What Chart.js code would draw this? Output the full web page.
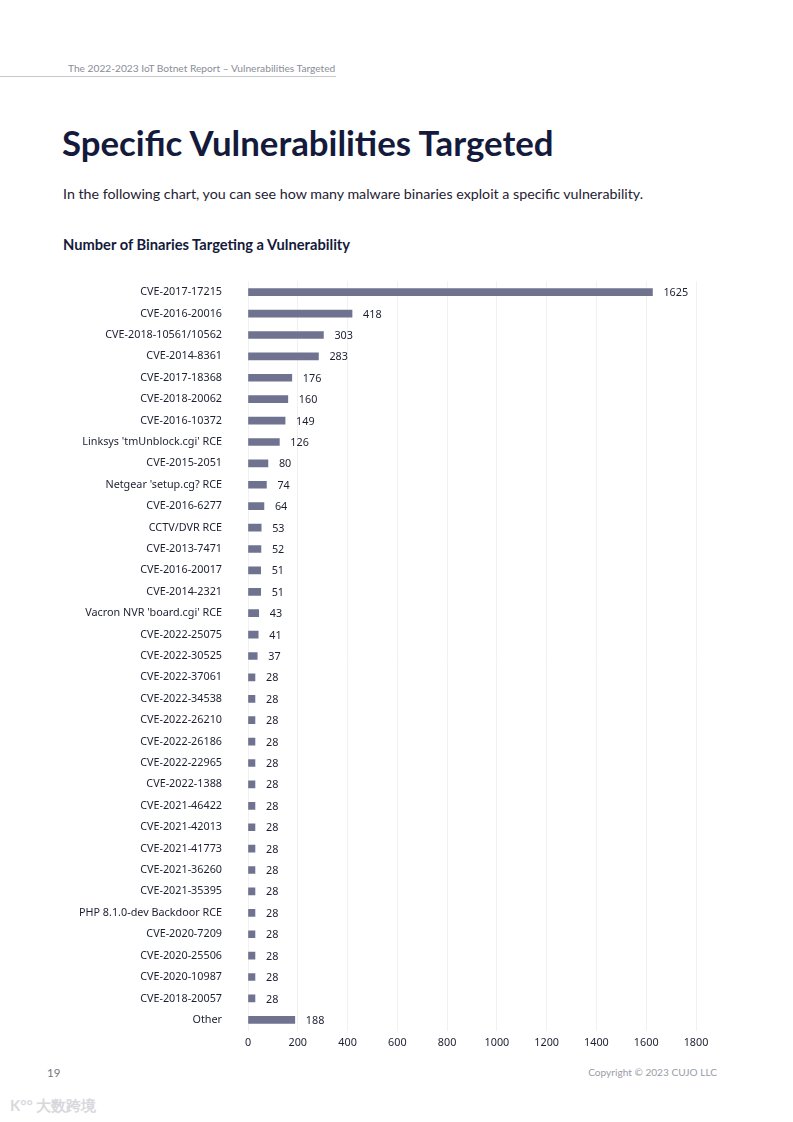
<!DOCTYPE html>
<html>
<head>
<meta charset="utf-8">
<script src="https://cdn.jsdelivr.net/npm/chart.js@4"></script>
<style>
  html, body { margin: 0; padding: 0; background: #fff; }
  body { width: 793px; height: 1122px; position: relative; overflow: hidden; font-family: Lato, sans-serif; }
  .header { position: absolute; left: 68px; top: 62px; font-size: 10.2px; color: #8a8d99; }
  .header-rule { position: absolute; left: 0; top: 76px; width: 336px; height: 1px; background: #c8c9cf; }
  h1 { position: absolute; left: 62px; top: 122px; margin: 0; font-size: 34.8px; font-weight: 700; color: #141a3b; }
  .lead { position: absolute; left: 63px; top: 185px; font-size: 14.25px; color: #1f2233; }
  .chart-title { position: absolute; left: 63px; top: 235px; font-size: 14.7px; font-weight: 700; color: #141a3b; }
  .chart-box { position: absolute; left: 0; top: 249px; width: 760px; height: 814px; }
  .page-no { position: absolute; left: 47px; top: 1066px; font-size: 11.5px; color: #77787e; }
  .copyright { position: absolute; right: 76px; top: 1066px; font-size: 10.1px; color: #9a9ca6; }
  .mark { position: absolute; left: 10px; top: 1096px; font-size: 15px; color: #d8d8dc; font-weight: 700; }
</style>
</head>
<body>
<div class="header">The 2022-2023 IoT Botnet Report – Vulnerabilities Targeted</div>
<div class="header-rule"></div>
<h1>Specific Vulnerabilities Targeted</h1>
<div class="lead">In the following chart, you can see how many malware binaries exploit a specific vulnerability.</div>
<div class="chart-title">Number of Binaries Targeting a Vulnerability</div>
<div class="chart-box"><canvas id="barChart"></canvas></div>
<div class="page-no">19</div>
<div class="copyright">Copyright © 2023 CUJO LLC</div>
<div class="mark">K°° 大数跨境</div>
<script>
// categories and counts
const vulnerabilities = [
    'CVE-2017-17215', 'CVE-2016-20016', 'CVE-2018-10561/10562', 'CVE-2014-8361',
    'CVE-2017-18368', 'CVE-2018-20062', 'CVE-2016-10372', "Linksys 'tmUnblock.cgi' RCE",
    'CVE-2015-2051', "Netgear 'setup.cg? RCE", 'CVE-2016-6277', 'CCTV/DVR RCE',
    'CVE-2013-7471', 'CVE-2016-20017', 'CVE-2014-2321', "Vacron NVR 'board.cgi' RCE",
    'CVE-2022-25075', 'CVE-2022-30525', 'CVE-2022-37061', 'CVE-2022-34538',
    'CVE-2022-26210', 'CVE-2022-26186', 'CVE-2022-22965', 'CVE-2022-1388',
    'CVE-2021-46422', 'CVE-2021-42013', 'CVE-2021-41773', 'CVE-2021-36260',
    'CVE-2021-35395', 'PHP 8.1.0-dev Backdoor RCE', 'CVE-2020-7209', 'CVE-2020-25506',
    'CVE-2020-10987', 'CVE-2018-20057', 'Other'
];
const binaryCounts = [
    1625, 418, 303, 283, 176, 160, 149, 126, 80, 74, 64, 53, 52, 51, 51, 43,
    41, 37, 28, 28, 28, 28, 28, 28, 28, 28, 28, 28, 28, 28, 28, 28, 28, 28, 188
];
const xTicks = [0, 200, 400, 600, 800, 1000, 1200, 1400, 1600, 1800];

const labelFont = '"Noto Sans", sans-serif';

// value labels at the end of each bar
const valueLabels = {
    id: 'valueLabels',
    afterDatasetsDraw(chart) {
        const ctx = chart.ctx;
        const meta = chart.getDatasetMeta(0);
        ctx.save();
        ctx.font = '10.8px ' + labelFont;
        ctx.fillStyle = '#1c1f30';
        ctx.textAlign = 'left';
        ctx.textBaseline = 'middle';
        meta.data.forEach((bar, i) => {
            ctx.fillText(String(binaryCounts[i]), bar.x + 11, bar.y + 1);
        });
        ctx.restore();
    }
};

const barChartCtx = document.getElementById('barChart').getContext('2d');
new Chart(barChartCtx, {
    type: 'bar',
    data: {
        labels: vulnerabilities,
        datasets: [{
            data: binaryCounts,
            backgroundColor: '#6f7390',
            barThickness: 7
        }]
    },
    options: {
        indexAxis: 'y',
        responsive: true,
        maintainAspectRatio: false,
        animation: false,
        layout: { padding: { top: 12, right: 64, left: 0, bottom: 0 } },
        plugins: {
            legend: { display: false },
            tooltip: { enabled: false }
        },
        scales: {
            x: {
                min: 0,
                max: 1800,
                afterBuildTicks: (scale) => { scale.ticks = xTicks.map(v => ({ value: v })); },
                afterFit: (scale) => { scale.height = 22; },
                border: { display: false },
                grid: { color: '#f1f1f4', drawTicks: false },
                ticks: {
                    padding: 6,
                    color: '#1c1f30',
                    font: { family: labelFont, size: 10.8 },
                    callback: (v) => String(v)
                }
            },
            y: {
                afterFit: (scale) => { scale.width = 248; },
                border: { display: false },
                grid: { display: false, drawTicks: false },
                ticks: {
                    padding: 26,
                    autoSkip: false,
                    color: '#1c1f30',
                    font: { family: labelFont, size: 10.8 }
                }
            }
        }
    },
    plugins: [valueLabels]
});
</script>
</body>
</html>
